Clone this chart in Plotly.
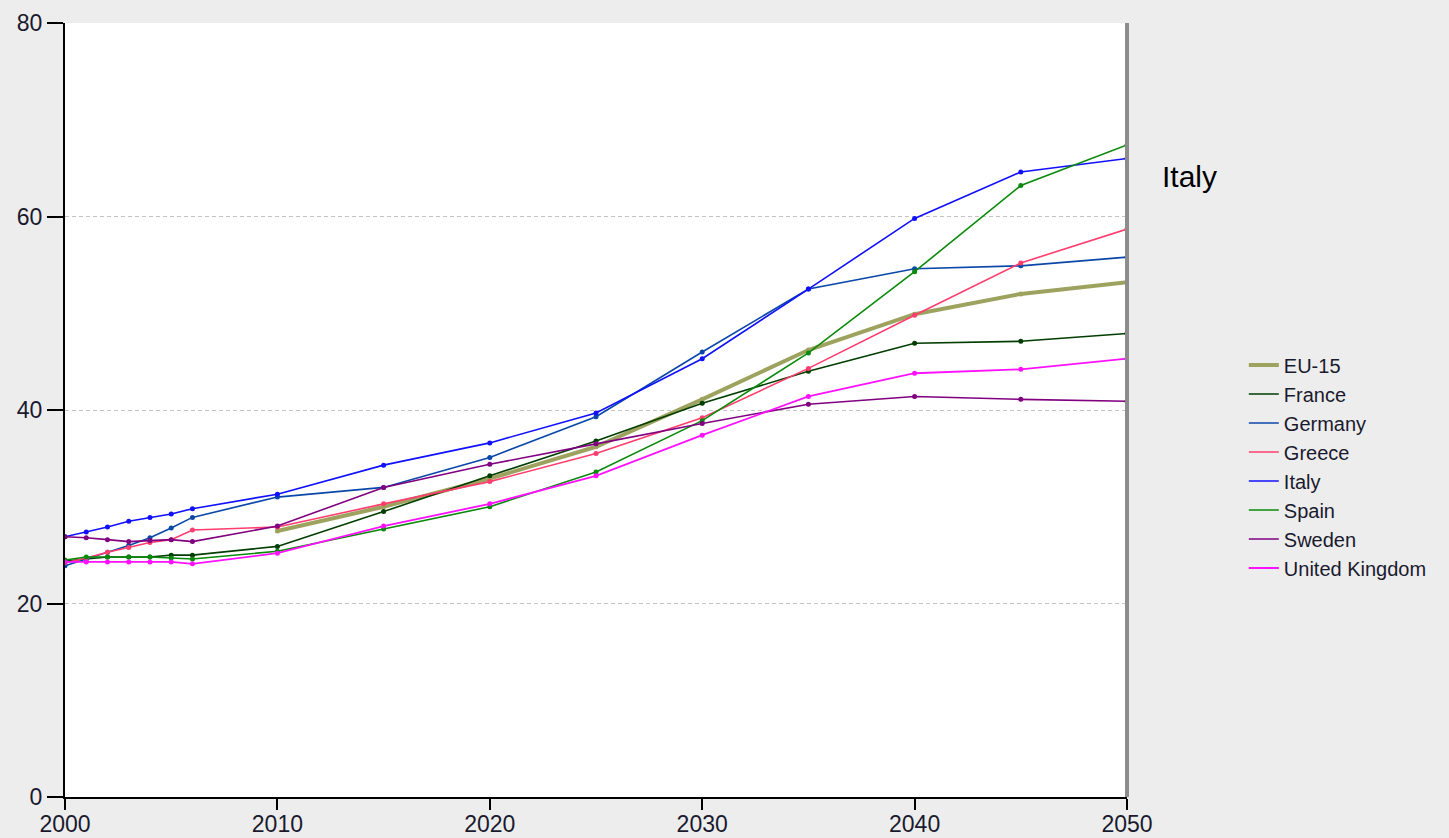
import plotly.graph_objects as go

years = [2000, 2001, 2002, 2003, 2004, 2005, 2006, 2010, 2015, 2020, 2025, 2030, 2035, 2040, 2045, 2050]

eu15 = [None, None, None, None, None, None, None, 27.5, 30.0, 32.9, 36.2, 41.1, 46.2, 49.9, 52.0, 53.2]
france = [24.4, 24.6, 24.8, 24.8, 24.8, 25.0, 25.0, 25.9, 29.5, 33.2, 36.8, 40.7, 44.0, 46.9, 47.1, 47.9]
germany = [23.9, 24.6, 25.3, 26.0, 26.8, 27.8, 28.9, 31.0, 32.0, 35.1, 39.3, 46.0, 52.5, 54.6, 54.9, 55.8]
greece = [24.2, 24.7, 25.3, 25.8, 26.3, 26.6, 27.6, 27.9, 30.3, 32.6, 35.5, 39.2, 44.3, 49.8, 55.2, 58.7]
italy = [26.9, 27.4, 27.9, 28.5, 28.9, 29.25, 29.8, 31.3, 34.3, 36.6, 39.7, 45.3, 52.5, 59.8, 64.6, 66.0]
spain = [24.5, 24.8, 24.8, 24.8, 24.8, 24.7, 24.6, 25.4, 27.7, 30.0, 33.6, 38.9, 45.9, 54.3, 63.2, 67.4]
sweden = [26.9, 26.8, 26.6, 26.4, 26.5, 26.6, 26.4, 28.0, 32.0, 34.4, 36.5, 38.6, 40.6, 41.4, 41.1, 40.9]
uk = [24.3, 24.3, 24.3, 24.3, 24.3, 24.3, 24.1, 25.2, 28.0, 30.3, 33.2, 37.4, 41.4, 43.8, 44.2, 45.3]

series = [
    ("EU-15", eu15, "#9DA35E", 4),
    ("France", france, "#003D00", 1.6),
    ("Germany", germany, "#0A47A8", 1.6),
    ("Greece", greece, "#FF3D6E", 1.6),
    ("Italy", italy, "#1010FF", 1.6),
    ("Spain", spain, "#0A8A0A", 1.6),
    ("Sweden", sweden, "#800080", 1.6),
    ("United Kingdom", uk, "#FF10FF", 1.8),
]

y_ticks = [0, 20, 40, 60, 80]
x_ticks = [2000, 2010, 2020, 2030, 2040, 2050]

fig = go.Figure()
for name, vals, color, w in series:
    fig.add_trace(go.Scatter(
        x=years, y=vals, name=name, mode="lines", legendgroup=name,
        line=dict(color=color, width=w), connectgaps=False,
    ))
    fig.add_trace(go.Scatter(
        x=years, y=vals, name=name, mode="markers", legendgroup=name,
        showlegend=False, marker=dict(color=color, size=5),
    ))

font_family = "Liberation Sans, Arial, sans-serif"
text_col = "#1a1a2e"

fig.update_layout(
    width=1449, height=838,
    margin=dict(l=65, r=322, t=23, b=41, autoexpand=False),
    paper_bgcolor="#EDEDED",
    plot_bgcolor="#FFFFFF",
    font=dict(family=font_family, color=text_col),
    showlegend=True,
    legend=dict(
        x=1.110, xanchor="left", y=0.427, yanchor="middle",
        font=dict(size=20, family=font_family, color=text_col),
        bgcolor="rgba(0,0,0,0)", borderwidth=0,
        tracegroupgap=0,
    ),
    xaxis=dict(
        range=[2000, 2050], tickvals=x_ticks, ticktext=[str(v) for v in x_ticks],
        showgrid=False, zeroline=False, automargin=False,
        showline=True, linecolor="#000000", linewidth=2,
        ticks="outside", ticklen=11, tickwidth=1.5, tickcolor="#000000",
        ticklabelstandoff=-6,
        tickfont=dict(size=23, family=font_family, color=text_col),
    ),
    yaxis=dict(
        range=[0, 80], tickvals=y_ticks, ticktext=[str(v) for v in y_ticks],
        showgrid=True, gridcolor="#C4C4C4", gridwidth=1, griddash="4px,3px",
        zeroline=False, automargin=False,
        showline=True, linecolor="#000000", linewidth=2,
        ticks="outside", ticklen=16, tickwidth=1.5, tickcolor="#000000",
        tickfont=dict(size=23, family=font_family, color=text_col),
    ),
    annotations=[dict(
        text="Italy", xref="paper", yref="paper", x=1.059, y=0.802,
        xanchor="center", yanchor="middle", showarrow=False,
        font=dict(size=30, family=font_family, color="#000000"),
    )],
    shapes=[
        dict(type="line", xref="x domain", yref="y domain", x0=1, x1=1, y0=0, y1=1,
             line=dict(color="#8C8C8C", width=4), layer="above"),
        dict(type="line", xref="x domain", yref="y", ysizemode="pixel", yanchor=0,
             x0=0.003, x1=1, y0=-2.5, y1=-2.5,
             line=dict(color="#9A9A9A", width=2), layer="above"),
    ],
)

fig.write_html(
    "out.html",
    config={"displayModeBar": False},
    post_script="document.body.style.margin='0';document.body.style.background='#EDEDED';document.body.style.overflow='hidden';",
)
